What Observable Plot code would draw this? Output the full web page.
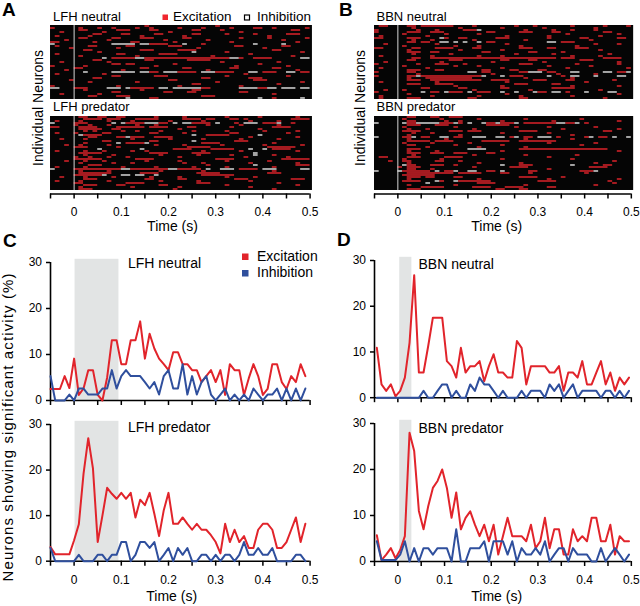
<!DOCTYPE html>
<html><head><meta charset="utf-8">
<script src="https://cdn.jsdelivr.net/npm/d3@7"></script>
<script src="https://cdn.jsdelivr.net/npm/@observablehq/plot@0.6"></script>
<style>
body{margin:0;background:#fff;}
#fig{position:relative;width:640px;height:606px;overflow:hidden;background:#fff;font-family:"Liberation Sans",Arial,sans-serif;}
</style></head><body><div id="fig"></div>
<script>
// ---------------- DATA ----------------
const binWidth = 0.01;
const rasterStart = -0.05, rasterEnd = 0.505;
const xTickValues = [-0.05, 0, 0.05, 0.1, 0.15, 0.2, 0.25, 0.3, 0.35, 0.4, 0.45, 0.5];
const xTickLabels = ["", "0", "", "0.1", "", "0.2", "", "0.3", "", "0.4", "", "0.5"];
const yTickValues = [0, 10, 20, 30];
const seriesNames = ["Excitation", "Inhibition"];

// percentage of neurons per 10 ms bin
const lfhStart = -0.05, bbnStart = -0.045;
const lfhNeutralExc = [2.5,2.5,2.5,5.3,2.7,9.1,1.2,2.6,6.6,6.6, 1.2,0,5,13.1,13.1,7.9,7.9,13.1,13.1,17.2, 9.1,14.5,11.3,9.1,7.9,6.6,10.5,10.5,7.9,7.9, 6.6,6.6,4,5.3,6.6,4,6.6,1.2,7.9,6.6, 6.6,1.2,4.8,7.9,5.3,1.2,2.5,7.9,7.9,4, 2.5,5.3,4,7.9,5.3];
const lfhNeutralInh = [5.3,0,0,0,1.3,0,2.6,2.6,1.3,1.3, 1.3,2.6,2.6,6.6,2.6,5.3,6.6,5.3,5.3,5.3, 4,2.6,4,1.3,5.3,6.6,2.6,2.6,7.9,1.3, 5.3,1.3,4,5.3,1.3,0,1.3,2.6,0,1.3, 0,1.3,0,2.6,1.3,0,1.3,1.3,2.6,0, 2.6,0,2.6,0,2.6];
const lfhPredatorExc = [3.1,1.5,1.5,1.5,1.5,4.6,8.1,19.2,27,20.3, 4.2,10,16.1,14.8,13.7,15,13.7,15,9.6,13.5, 12.3,15,10.4,5.5,11.2,15,8.2,8.2,9.6,8.2, 6.9,8.2,6.9,6.9,5.7,4.2,1.7,8.2,4.2,6.9, 4.2,5.5,2.9,2.9,6.9,8.2,8.2,6.9,2.9,2.9, 4.2,6.9,9.6,4.2,8.2];
const lfhPredatorInh = [2.9,0,0,0,0,0,1.4,0,0,0, 1.4,1.4,0,1.4,1.4,4.2,4.2,0,1.4,4.2, 4.2,2.9,4.2,0,1.4,2.9,0,2.9,1.4,2.9, 0,0,1.4,1.4,0,1.4,0,1.4,1.4,0, 1.4,4.2,1.4,1.4,2.9,1.4,1.4,2.9,0,0, 0,0,1.4,1.4,0];
const bbnNeutralExc = [10.9,2.9,1.5,2.9,0.3,1.5,4.4,12,26.8,5.5, 5.5,11.3,17.5,17.5,17.5,8,6.9,4.4,10.9,5.5, 6.9,6.9,8,3.6,6.9,9.5,5.5,5.5,4.4,4.4, 12.4,10.9,2.9,6.9,6.9,6.9,6.9,5.5,5.5,6.9, 1.5,5.5,5.5,4.4,8,2.9,2.9,5.5,8,2.9, 5.5,1.5,4.4,2.9,4.4];
const bbnNeutralInh = [0,0,0,0,0,0,0,0,0,0, 1.5,0,0,1.5,2.9,2.9,0,1.5,0,0, 2.9,1.5,4.4,2.9,2.9,1.5,0,1.5,0,0, 0,1.5,0,1.5,1.5,1.5,0,2.9,1.5,2.9, 0,1.5,2.9,0,1.5,1.5,1.5,1.5,0,1.5, 1.5,0,1.5,0,1.5];
const bbnPredatorExc = [5.7,0.3,1.5,2.9,0.7,2.5,5.5,28,24,11, 7,12,16,17.5,20,16,9.5,15,7,9.5, 10.9,8,5.5,8,4.4,8,1.5,5.5,9.5,5.5, 5.5,5.5,4.4,8,2.9,4.4,9.5,2.9,7,7, 1.5,1.5,7,4.4,5.5,4.4,9.5,9.5,4.4,4.4, 8,1.5,5.5,4.4,4.4];
const bbnPredatorInh = [4.4,0.3,0.3,0.3,0.3,1.5,4.4,0,2.9,0, 2.9,2.9,1.5,2.9,2.9,2.9,0,7,0,0, 2.9,2.9,2.9,4.4,0,4.4,4.4,4.4,1.5,4.4, 0,2.9,1.5,1.5,2.9,1.5,4.4,0,1.5,2.9, 2.9,0,2.9,1.5,1.5,1.5,0,0,2.9,0, 1.5,2.9,1.5,0,1.5];

// stimulus shading (s)
const lfhShade = [0.002, 0.095];
const bbnShade = [0.004, 0.03];
const shadeTop = 30.7;

// rasters: one string per neuron, one char per 10 ms bin from -0.05 s; e = excitation, w = inhibition
const lfhNeutralRaster = [
"..... ..... ..... ..... e.... ..... ..... e.... ..... ..... .....",
"e.... .e... e..e. ...e. .e... ..e.. ..e.. ...e. ...ee ..e.. ....e",
"..... .ee.. ....e ee... .ee.. ..... ee... .e... ..... ..... .ee..",
"..e.. ..... .e... ..... ..... e.... ..... ..... e.... ..... .....",
"..... ....e e.... ee... ..ee. ..... ee... ..e.. ...e. ..... eee..",
".e... ...e. ..... ....e ..... ...e. ..... ..... ..... .e... .....",
"..... .ee.. ...ee ....e ee... ...ee ..... ..... e.... .e... ....e",
"...e. ..... ..e.. ..... ....e ..... ...e. ..... ..... ....e .....",
"ee... ....e ..... ..ee. ..... .e... ..... ...e. ..... ..... ..e..",
"w.... ..... ...ww www.w weeee ...w. ..e.. ..... ...w. ....w .....",
".e... ...ee ..... .ee.. ..... eee.. ..... ....e e.... ....e e....",
"....e ..... ....e ..... ..... ..... .e... ..... ..... e.... .....",
"..... ..ee. ..... ....e ee... ..eee e.... ..... ..... ..ee. .....",
"..... ..... e.... ..... ..... ..... w.... ..e.. ..... ..... ...e.",
".e... ..... ....e e.... ...ee ee... ..... ..... ..e.. ..... .....",
"..... .e... ..... ...e. ..... ..... ....e ..... ..... ..... .e...",
"..... ..... .w.ee eeeww eeeee eeeee eeeee eeeww e..ee ee... ...ww",
"..... ....e e.... ..... ee... ....e eeee. ..... ..... ..... .....",
"..e.. ..... ..e.. ..... ..... ..... ..... .e... ..... ...e. .....",
"..... ..... ...ee .ee.. ..... .e... ..... ..... ....e ..... .....",
"e.... ..e.. ..... ..... ..e.. ..... ..... ....e ..... ..... e....",
"..... ee... ..... ....e e.... ...ee ..... ...ee ..... ..ee. .....",
"...e. ..... ..... e.... ..... ..... ...e. ..... ..... ..... ..e..",
"..... ..w.. ...ww www.w wee.w wweee e.www eeee. ..ww. eee.. ww.ee",
".e... ..... .e... ..... ..... ..... ..... ..... .e... ..... .....",
"..... ..... ...ee ..... ..eee ..... ..... ..e.. ..... ..... e....",
"..... ....e e.... ..... ..... ..... ..ee. ..... ..eee ..... .....",
"....e ..... ..... ..... ..... ee... ..... ..... ...ee e.... .....",
"..... ...e. ..... ...e. ..... ..... ..... e.... ..... ..... ...e.",
"..... ..... ..... ..... ..... ..... ee... ..... ..... ...e. .....",
"e.... ..... ....e ..... ..... ..e.. ..... ..... e.... ..... .....",
"ww... eee.. ..www .weee ee.ww .wwww wwee. ..... wwwwe eww.w ww.ww",
"..... ..e.. ..... ....e ..... ..... ee... ..... ..... ..... .....",
"..... ..... ...ee ..... ....e e...e e.... ..... ee... ..... .....",
"..e.. ..... e.... ..... ..... ..... ..... ..... ..... ..e.. .....",
"..... ...ee ....e ee... ..... ..... ..eee ..... ..... ..... .....",
"..... ..... ..... .w... .ee.. ..... ..... ..... ....w ..e.. ...w."
];
const lfhPredatorRaster = [
"..... .ee.. ee..e e.... ..e.. ...e. ..... ..e.. ....e ..... ..e..",
"..... ..eee e.eee ...ee eee.. ...ee ee.ee ...ee .e... ..... .eeee",
".e... .e... ..e.. ..e.. ..... e.... ..e.. ..... ..e.. ...e. .....",
"w.... eee.. ...w. weeee wwwee .w.ww eeee. w...e .www. eeew. .e...",
"..... e..e. ..e.. ...e. ..e.. ..... ...e. ..... e.... ...e. .....",
"ee... .eeee ....e eeeee .eeee ....e e.... ...e. ..... ..eee e....",
"..... .eeee e..ee ..... ..... ..e.. ..... ..... ....e ..... .....",
"..... ..e.e ..... e..e. ...e. ..... e.... ..e.. ..... e.... ..e..",
".e... e.... .ee.. ..... .ee.. ...e. ..... ...ee ..... ..... e....",
"..... .weee e.... ..... ..... ..... w..ee eee.. ....w ..... .....",
"..... ...ee ....e eweee ..eee e.... ..... ..... ..e.. ..... ..e..",
"..e.. ..e.. ..... ..e.. ..... e.... ..e.. ..... e.... ...e. .....",
"..... ..... .ee.. ..... .ee.. ..... w.... ....e ee... ..... .....",
"..... ..e.. ....w .eeee w.... ..... ..eee e.... ..... ..e.. .....",
"...e. .e... ..e.. ..... ..e.. ...e. ..... .e... ..... e.... ...e.",
"..... eee.. ....e ..... ..... ....e eeee. ..... ..... .eeee ee...",
"..... ..... w.... ....w ..... .eeee ....e eeee. ..w.. w.eee e....",
".e... ..e.. .e... ..e.. e.... ..... ..e.. ..... e.... ..... ..e..",
"..... .eeee e.... ..... .eeee ..... eeee. ..... ...w. ..... .....",
"..... ..e.. ...e. ..... ...e. ..... .e... ...e. ...w. ..e.. .....",
"..... e..e. ..e.. .e... ..... ..e.. ..... ..... .e... ..... e....",
"..... eeeee e.... ...ee ee... ..... ..... eeee. ..... ....e eeeee",
"...e. ..e.. .e... ..... e.... ..e.. ..... ..e.. ..... .e... .....",
"..... .e... ...e. ..e.. ..... ...e. ..e.. ..... ..e.. ..... ..e..",
"..... ...ee e.... ..... ..... ..... ...e. ..... ...w. ..... ..eee",
".e... ..e.. ..... e.... ..e.. ..... e.... ..e.. ..... ..e.. .....",
"w.... eeeee eeeee wweee eeeee wweee ee.w. .www. eeee. www.. ...ww",
"..... .e... ..e.. ..... ...e. ..... ..e.. ..... ..... ..e.. .....",
"..... .eeee eee.. ....e eee.. ..... .eeee e.... ..... .eee. .....",
"..... eeeee ew... ww.ww ..w.. ..... ..eee eeee. ..... ..... .....",
"..e.. ..e.. ...e. ..... .e... ..e.. ..... ..e.. ...e. ..... .....",
"..... ..eee ..... ..... ee... ..ee. ..... ....e ee... ..... .eee.",
".e... .e... ..e.. ..... ...e. ..... .e... ..... ..e.. ..... .....",
"..... ee... ..... .eeee ..... ..... .eee. ..... ..... ...e. .....",
"..... ..eee ....e e.... ...ee ..... ..... ..e.. ..... ..... ..e..",
"..... .e... ..... ..e.. ..... ..e.. ..... ..... ..e.. ..... .....",
"..... .eee. ..... ..... ..... .e... ..... ..... ..... ..e.. ....."
];
const bbnNeutralRaster = [
".ee.. ..ee. eeeee ee... .e... ..... e...e ..... ..e.. ....e ....e",
"..... ...e. ..... ...e. ..... ..e.. ..... .e... ..... ..e.. .....",
"e.... ....e ...e. ....e eew.. ..... ..e.. ...e. ..e.. ..e.. .....",
"e.... ..eee ..eee ..... ....e e.... .eee. ...ee ..... ....e e....",
"..... .e... ..... e.... ..e.. ..... ..... ..... .e... ..... ..e..",
".e... ..... .e... ..... ..... ...e. ..... ..e.. ..... ...e. .....",
"ee... ..eee ....w e..ee ..... .eee. ..... ..e.. ....e e.... ..ee.",
"..... ...e. ..e.. ..... .e... ..... ..e.. ..... ..... .e... .....",
"..... ..ee. ee..w w.w.w ..w.e e.... ..... ..ww. eee.. ..... .....",
"..e.. ..... ...e. ..... ..... ...e. ..... ..... ..... ..e.. ..e..",
"..... .e... ..... ..e.. ..e.. ..... .e... ..... ...e. ..... .....",
"ee... ...ee ...ee ee... .ee.. ..... .eee. ..ee. ...ee e.... .....",
"..... ..e.. ..... ...e. ..... ..e.. ..... ..... ..... ...e. .....",
"..... ..eee ..ee. ..... ...ee ..... ...ee ..... e.... ..... .....",
"..... ...e. ..... .e... ..... ..... e.... ...e. ..... ..... e....",
".e... ..... ..e.. ..... ..e.. ..e.. ..... ..... ..e.. ...e. .....",
"..... ...ee ..eee eeeee eeeee eeeee eeeee eeee. eee.. ....e eee..",
"..... ..ee. ..... .eee. ..... ..ee. ...ee ..... ....e ee... .....",
"..e.. ..... ....e ..... ..... e.... ..... .e... ..... ..... ..e..",
"e.... ....e ...ee e...e ..... ..... .eee. ..... ...e. ..... ..e..",
"..... .e... ..... ..e.. ..e.. ..... ..... ..e.. ..... .e... .....",
".e... ..... .e... ..... ..... ..e.. ..... ..... .e... ..... ....e",
"..... ..eee ...ee ..... ...ee ....e e.... ee... ..... ..... .....",
"e.... ..ee. ..... ..... ww.ee ..... .eeww w.ee. ..ww. ....w w.eew",
"..... ....e ..... ..... ..... e.... ..... ....e ..... ..e.. .....",
"e.... ..eew eeeee eeeee eeew. ..w.e ee... ..w.. e.ww. ..w.. ..ww.",
"..... ..e.. .eeee eeeee e.... ..... ..e.. ..... ..e.. ..... .....",
"..... ..eee ..eee eeeee eee.. eeee. ....e ee... .ee.. ..... .e...",
".e... ..... ...e. ..... ..... ...e. ..... ..... ..... e.... .....",
"..... ..eee ...ee ee... ..... ..... eee.. ...ee ..... ..... .....",
"..... ..... ..... ..e.. ..... ..e.. ..... ..... ..e.. ..... ..e..",
"..... ..... ee... ...ee ..... ..ee. ..... ...ee eee.. ..... .....",
"..e.. .e... ..... ..... .e... ..... ...e. ..... ..... ...e. .....",
"e.... ..... w.ee. weee. w.eee ..w.. w...w ee.ww .e... w.... ww...",
"..... ..e.. ..... ..... ..... ...e. ..... ..... ..... ..... ..e..",
".e... ..... ..e.. ..... ..e.. ..... .e... ..... ..e.. ..... .....",
".e... ..eee ..... ..... ee... ..... .ee.. ..... ..... ....e ....."
];
const bbnPredatorRaster = [
"..... ..ee. ..ee. .eee. ..... ..... ..... ..... ..... ..... .....",
"..... .e... ....e ..... ..e.. ..... ..e.. ..... ....e ..... .....",
"..... ..ee. ..... e..e. ..... ..e.. ..... ...e. ..... ..... ..e..",
"w.... .weew wwwwe eewe. w..we eweee w.eee eeeew weew. e.... .....",
"..... ..eee ...ee e.... ....e eeee. ..... ..... ..... ..... .....",
"..... .e... ..... ..e.. ..... ..... e.... ..e.. ..... ..e.. .....",
"..... ..e.. .e... ..... .e... ..... ..... ..... e.... ..... ..e..",
"..... .eeee ..... .eee. eee.. ..... .eeee ..... ..... ....e e....",
"..... ...e. ..e.. ..... ..... ..e.. ..... ..e.. ..... ..... .....",
"..... ..e.. ..... ...e. ..... ..... ..... ..... ..e.. ..... .....",
"w.... .eew. ee..w w.ee. .www. .ww.e w.ee. www.e ..... ew.ee .w..w",
"..... ..e.. ..... e.... ..... ..... ..e.. ..... ..e.. ..... .....",
"..... ..eee ee.ee ee... ...ee eeee. .eeee eeee. ..... ..... .....",
"..... .e... ..e.. ..... e.... ..... ..... ..e.. ..... ..e.. .....",
"..... ..ee. ..... ..e.. ..... ..e.. ..... ..... ....e ..... .....",
"..... ..... .e... ..... ..e.. ..... ..e.. ..... ..... ..... .....",
"..... ..eee ..... ..... wwww. ..... .eeee eeeee eeeee eeeee .....",
"..... ..e.. ...e. ..... ..... ..e.. ..... ..... ..... ..... ..e..",
"..... ..eee ..eee ..eee ....e e.... ..... ..... ..... ..... .....",
"..... ...e. ..... ..... .e... ..... ..e.. ..... ...e. ..... .....",
".ee.. ..eee ..... eeee. ..... ..... ..... ..e.. ..... ..... .....",
"..... .e... ....e ..... ..... ..e.. ..... ..... ..e.. ..... .....",
"...e. .ee.. ...ee ...e. ..... ..... ..... ..... ..... ..... .e...",
"..... ..e.. ..... ..... ..e.. ..... .e... ..... ..... ..e.. .....",
"..... .wee. ..eee ..e.. ..... ..w.. .eee. ..... ..w.. ....e e....",
"..... e.eee ..... ..... .e... ....e eee.. ..... ..... .eeee .....",
"..... ..ee. ..e.. ..... ..... ..... ..... ..e.. ..... ..... .....",
"w.... weeee ee.w. eew.. ww..e e.w.. ...ee ..... ....e eew.. .....",
"..... ..eee eeeee ee.ee eee.. ..ee. ...e. ..... ..... e.... .....",
"..... .eeee eee.. ..... ..... ..... ..... ..... ..... ..... .....",
"..... ..eee .ee.. ..ee. ..... ..... .eeee ..... e.... ..... .....",
"..... ..e.. ..... ..... ..e.. ..... ..... ..e.. ..... ..... ..e..",
"..... .eeee ...we ..wee eeeee ..... ..... eeee. ..... ..... e....",
"..... ..... .w... ..... ..eee e.... ..... ..... ..... ..... .e...",
"..... ..e.. ..... ..e.. ..... ..... ..e.. ..... ..... ..e.. .....",
"..... ..... eeeee ..... .eeee ...ee ee... ..ee. ..... ..... .....",
"..... ..eee ..... ..... ..... .ee.. .ee.. ..... ..... ..... ....."
];

// ---------------- STYLE / LAYOUT ----------------
const RED = "#e1242b", BLUE = "#2f4f9d", RASTER_RED = "#f0262e", RASTER_WHITE = "#ececec", SHADE = "#e2e4e4";
const plotStyle = {fontFamily: '"Liberation Sans", Arial, sans-serif', fontSize: "12px", color: "black", background: "transparent", overflow: "visible"};
const fig = document.getElementById("fig");
function place(node, left, top) {
  node.style.position = "absolute"; node.style.left = left + "px"; node.style.top = top + "px";
  fig.appendChild(node);
}
const tickLabel = d => { const i = xTickValues.findIndex(v => Math.abs(v - d) < 1e-9); return i >= 0 ? xTickLabels[i] : ""; };
function thickenAxes(svg) {
  d3.select(svg).selectAll('g[aria-label*="axis"]').attr("stroke-width", 1.5);
}

function parseRaster(rows) {
  const segs = [];
  rows.forEach((row, r) => {
    const s = row.replace(/\s/g, "");
    let j = 0;
    while (j < s.length) {
      const ch = s[j];
      if (ch === "e" || ch === "w") {
        let k = j; while (k < s.length && s[k] === ch) k++;
        segs.push({row: r, t0: rasterStart + j * binWidth, t1: Math.min(rasterEnd, rasterStart + k * binWidth), type: ch === "e" ? seriesNames[0] : seriesNames[1]});
        j = k;
      } else j++;
    }
  });
  return segs;
}

function rasterPlot(rows, g, withAxis) {
  const n = rows.length;
  const segs = parseRaster(rows);
  const ml = 10, mr = 10;
  const W = (rasterEnd - rasterStart) * g.pxPerSec;
  const gap = withAxis ? g.axisGap : 0;
  const yMax = n + gap / (g.h / n);
  const mb = withAxis ? 40 : 0;
  const svg = Plot.plot({
    width: W + ml + mr, height: g.h + gap + mb,
    marginLeft: ml, marginRight: mr, marginTop: 0, marginBottom: mb,
    style: plotStyle,
    x: withAxis
      ? {domain: [rasterStart, rasterEnd], ticks: xTickValues, tickFormat: tickLabel, tickSize: 5, tickPadding: 8, label: null}
      : {domain: [rasterStart, rasterEnd], axis: null},
    y: {domain: [0, yMax], reverse: true, axis: null},
    marks: [
      Plot.rect([{a: rasterStart, b: rasterEnd, c: 0, d: n}], {x1: "a", x2: "b", y1: "c", y2: "d", fill: "#050505"}),
      Plot.rect(segs, {x1: "t0", x2: "t1", y1: d => d.row + 0.16, y2: d => d.row + 0.84,
        fill: d => d.type === seriesNames[0] ? RASTER_RED : RASTER_WHITE}),
      Plot.ruleX([0], {y1: () => 0, y2: () => n, stroke: "#d8d8d8", strokeWidth: 1}),
      withAxis ? Plot.ruleY([yMax], {x1: () => rasterStart, x2: () => 0.5, strokeWidth: 1.6}) : null
    ]
  });
  thickenAxes(svg);
  place(svg, g.frameLeft - ml, g.top);
}

function linePlot(exc, inh, start, shade, g, withLabels) {
  const ml = 45, mr = 10, mt = 8, mb = withLabels ? 30 : 10;
  const W = 0.55 * g.pxPerSec;
  const h = g.y0 - g.y30;
  const toRows = (vals, name) => vals.map((v, i) => ({t: start + i * binWidth, v, name}));
  const svg = Plot.plot({
    width: ml + W + mr, height: mt + h + mb,
    marginLeft: ml, marginRight: mr, marginTop: mt, marginBottom: mb,
    style: plotStyle,
    x: {domain: [-0.05, 0.5], ticks: xTickValues, tickFormat: withLabels ? tickLabel : () => "", tickSize: 5, tickPadding: 9, label: null},
    y: {domain: [0, 30], ticks: yTickValues, tickSize: 4, tickPadding: 4.5, label: null},
    marks: [
      Plot.rect([{a: shade[0], b: shade[1], c: 0, d: shadeTop}], {x1: "a", x2: "b", y1: "c", y2: "d", fill: SHADE}),
      Plot.ruleX([-0.05], {y1: () => 0, y2: () => 30, strokeWidth: 1.6}),
      Plot.ruleY([0], {x1: () => -0.05, x2: () => 0.5, strokeWidth: 1.6}),
      Plot.line(toRows(exc, seriesNames[0]), {x: "t", y: "v", stroke: RED, strokeWidth: 2}),
      Plot.line(toRows(inh, seriesNames[1]), {x: "t", y: "v", stroke: BLUE, strokeWidth: 2})
    ]
  });
  thickenAxes(svg);
  place(svg, g.frameLeft - ml, g.y30 - mt);
}

const leftCol = {frameLeft: 50.4, pxPerSec: 472};
const rightCol = {frameLeft: 374, pxPerSec: 467};

rasterPlot(lfhNeutralRaster, {...leftCol, top: 25, h: 74}, false);
rasterPlot(lfhPredatorRaster, {...leftCol, top: 116, h: 74, axisGap: 3.5}, true);
rasterPlot(bbnNeutralRaster, {...rightCol, top: 25, h: 74}, false);
rasterPlot(bbnPredatorRaster, {...rightCol, top: 116, h: 74, axisGap: 3.5}, true);

linePlot(lfhNeutralExc, lfhNeutralInh, lfhStart, lfhShade, {...leftCol, y30: 261.5, y0: 399.5}, false);
linePlot(lfhPredatorExc, lfhPredatorInh, lfhStart, lfhShade, {...leftCol, y30: 424.3, y0: 561}, true);
linePlot(bbnNeutralExc, bbnNeutralInh, bbnStart, bbnShade, {...rightCol, y30: 259.5, y0: 396.7}, false);
linePlot(bbnPredatorExc, bbnPredatorInh, bbnStart, bbnShade, {...rightCol, y30: 423.3, y0: 561.3}, true);

// ---------------- TEXT OVERLAY ----------------
const ov = d3.create("svg").attr("width", 640).attr("height", 606)
  .style("font-family", '"Liberation Sans", Arial, sans-serif').style("pointer-events", "none");
function txt(s, x, y, size, opts = {}) {
  const t = ov.append("text").attr("x", x).attr("y", y).attr("font-size", size).text(s);
  if (opts.bold) t.attr("font-weight", "bold");
  if (opts.anchor) t.attr("text-anchor", opts.anchor);
  if (opts.rotate) t.attr("transform", `rotate(-90 ${x} ${y})`);
  if (opts.len) t.attr("textLength", opts.len).attr("lengthAdjust", "spacing");
  return t;
}
txt("A", 2, 16, 19, {bold: true});
txt("B", 339, 16, 19, {bold: true});
txt("C", 3, 246.5, 19, {bold: true});
txt("D", 337, 245.5, 19, {bold: true});

txt("LFH neutral", 53, 21, 13);
txt("LFH predator", 53, 110.5, 13);
txt("BBN neutral", 376.5, 21, 13);
txt("BBN predator", 376.5, 111, 13);

ov.append("rect").attr("x", 162.5).attr("y", 14.5).attr("width", 5.5).attr("height", 5.5).attr("fill", RASTER_RED);
txt(seriesNames[0], 173, 21, 13.5);
ov.append("rect").attr("x", 244.5).attr("y", 15).attr("width", 5).attr("height", 5).attr("fill", "white").attr("stroke", "black").attr("stroke-width", 1.2);
txt(seriesNames[1], 257, 21, 13.5);

txt("Individual Neurons", 43, 108, 14, {anchor: "middle", rotate: true});
txt("Individual Neurons", 365, 108, 14, {anchor: "middle", rotate: true});
txt("Time (s)", 172.5, 231, 14, {anchor: "middle"});
txt("Time (s)", 496.7, 231, 14, {anchor: "middle"});

txt("Neurons showing significant activity (%)", 12.5, 427.5, 15, {anchor: "middle", rotate: true, len: 308});

ov.append("rect").attr("x", 242).attr("y", 253.5).attr("width", 6.5).attr("height", 6.5).attr("fill", RED);
txt(seriesNames[0], 257, 260.5, 14);
ov.append("rect").attr("x", 242).attr("y", 270).attr("width", 6.5).attr("height", 6.5).attr("fill", BLUE);
txt(seriesNames[1], 257, 277, 14);

txt("LFH neutral", 128, 268, 14);
txt("LFH predator", 128, 432, 14);
txt("BBN neutral", 418.5, 268.5, 14);
txt("BBN predator", 418.5, 432.5, 14);
txt("Time (s)", 171.7, 600.5, 14, {anchor: "middle"});
txt("Time (s)", 496.7, 600.5, 14, {anchor: "middle"});

place(ov.node(), 0, 0);
</script></body></html>
